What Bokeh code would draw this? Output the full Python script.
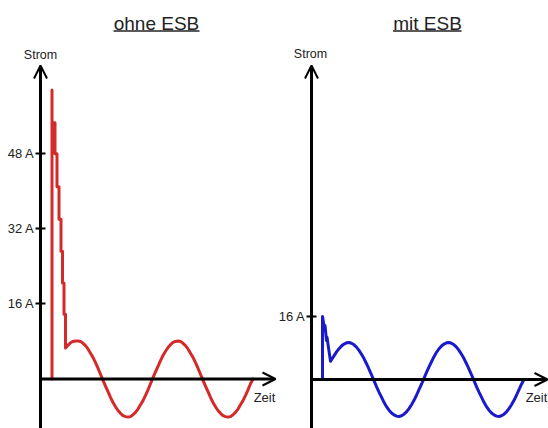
import numpy as np
from bokeh.plotting import figure
from bokeh.models import (LinearAxis, FixedTicker, PrintfTickFormatter, Arrow,
                          OpenHead, Label, BoxAnnotation, Range1d)
from bokeh.layouts import row
from bokeh.embed import file_html
from bokeh.resources import INLINE

# ---------------- data ----------------
panel_titles = ["ohne ESB", "mit ESB"]
y_label = "Strom"
x_label = "Zeit"
left_ticks = [16, 32, 48]
right_ticks = [16]

# ohne ESB : inrush staircase (time in ms, current in A)
red_start_t = 2.3
red_step_t = [2.3, 2.9, 3.3, 3.7, 4.1, 4.4, 4.7, 5.0]
red_step_A = [61.5, 54.5, 47.9, 40.9, 34.0, 27.2, 20.4, 13.8]
red_kink_A = 6.6
red_wave_t0 = 5.5
red_wave_A = [7.2, 7.7, 8.0, 8.1, 8.1, 8.0, 7.6, 7.1, 6.4, 5.5, 4.6, 3.5, 2.3, 1.0, -0.3,
              -1.5, -2.7, -3.9, -5.0, -5.9,
              -6.7, -7.3, -7.8, -8.0, -8.1, -8.0, -7.6, -7.1, -6.4, -5.5, -4.6, -3.5, -2.3, -1.0, 0.3,
              1.5, 2.7, 3.9, 5.0, 5.9,
              6.7, 7.3, 7.8, 8.0, 8.1, 8.0, 7.6, 7.1, 6.4, 5.5, 4.6, 3.5, 2.3, 1.0, -0.3,
              -1.5, -2.7, -3.9, -5.0, -5.9,
              -6.7, -7.3, -7.8, -8.0, -8.1, -8.0, -7.6, -7.1, -6.4, -5.5, -4.6, -3.5, -2.3, -1.0, 0.0]

# mit ESB : small spike
blue_spike_t = [2.2, 2.2, 2.6, 2.7, 3.0, 3.1, 3.8]
blue_spike_A = [0.0, 16.0, 12.9, 13.7, 9.9, 10.7, 4.6]
blue_wave_t0 = 4.0
blue_wave_A = [5.0, 6.0, 7.0,
               7.8, 8.5, 9.0, 9.3, 9.4, 9.2, 8.8, 8.2, 7.4, 6.4, 5.3, 4.0, 2.6, 1.2, -0.3,
               -1.8, -3.2, -4.5, -5.8, -6.9,
               -7.8, -8.5, -9.0, -9.3, -9.4, -9.2, -8.8, -8.2, -7.4, -6.4, -5.3, -4.0, -2.6, -1.2, 0.3,
               1.8, 3.2, 4.5, 5.8, 6.9,
               7.8, 8.5, 9.0, 9.3, 9.4, 9.2, 8.8, 8.2, 7.4, 6.4, 5.3, 4.0, 2.6, 1.2, -0.3,
               -1.8, -3.2, -4.5, -5.8, -6.9,
               -7.8, -8.5, -9.0, -9.3, -9.4, -9.2, -8.8, -8.2, -7.4, -6.4, -5.3, -4.0, -2.6, -1.2, 0.0]
sample_step = 0.5

# ---------------- build series ----------------
red_x = [red_start_t]
red_y = [0.0]
levels = red_step_A + [red_kink_A]
for i, t in enumerate(red_step_t):
    red_x += [t, t]
    red_y += [levels[i], levels[i + 1]]
red_x += list(red_wave_t0 + sample_step * np.arange(len(red_wave_A)))
red_y += red_wave_A

blue_x = list(blue_spike_t) + list(blue_wave_t0 + sample_step * np.arange(len(blue_wave_A)))
blue_y = list(blue_spike_A) + blue_wave_A

FONT = "Liberation Sans"
TXT = "#222222"


def panel(title, xs, ys, color, ticks, width, xr, yr, ytip, xtip, title_pos, ul, strom_pos, zeit_pos):
    p = figure(width=width, height=428, x_range=Range1d(*xr), y_range=Range1d(*yr),
               output_backend="svg", toolbar_location=None, min_border=0,
               x_axis_type=None, y_axis_type=None)
    p.outline_line_color = None
    p.background_fill_color = "white"
    p.border_fill_color = "white"

    yax = LinearAxis(fixed_location=0, ticker=FixedTicker(ticks=ticks),
                     formatter=PrintfTickFormatter(format="%d A"))
    yax.axis_line_color = None
    yax.major_tick_in = 5
    yax.major_tick_out = 5
    yax.major_tick_line_width = 2
    yax.major_tick_line_color = "black"
    yax.minor_tick_line_color = None
    yax.major_label_standoff = 1
    yax.major_label_text_font = FONT
    yax.major_label_text_font_size = "13px"
    yax.major_label_text_color = TXT
    p.add_layout(yax, "left")

    p.add_layout(Arrow(end=OpenHead(size=13, line_width=2, line_color="black"),
                       x_start=0, y_start=yr[0], x_end=0, y_end=ytip,
                       line_width=3, line_color="black"))
    p.add_layout(Arrow(end=OpenHead(size=13, line_width=2, line_color="black"),
                       x_start=0, y_start=0, x_end=xtip, y_end=0,
                       line_width=3, line_color="black"))

    p.line(xs, ys, line_color=color, line_width=3, line_join="round", line_cap="round")

    p.add_layout(Label(x=title_pos[0], y=title_pos[1], text=title, text_align="center",
                       text_baseline="middle", text_font=FONT, text_font_size="19px",
                       text_color=TXT))
    p.add_layout(BoxAnnotation(left=ul[0], right=ul[1], bottom=ul[2], top=ul[3],
                               fill_color=TXT, fill_alpha=1.0, line_color=None))
    p.add_layout(Label(x=strom_pos[0], y=strom_pos[1], text=y_label, text_align="center",
                       text_baseline="middle", text_font=FONT, text_font_size="12.5px",
                       text_color=TXT))
    p.add_layout(Label(x=zeit_pos[0], y=zeit_pos[1], text=x_label, text_align="center",
                       text_baseline="middle", text_font=FONT, text_font_size="13px",
                       text_color=TXT))
    return p


p1 = panel(panel_titles[0], red_x, red_y, "#d42a2a", left_ticks, 278,
           (-8.0, 47.6), (-10.53, 80.53), 66.7, 47.0,
           (23.2, 75.55), (14.6, 31.8, 73.88, 74.20), (0.0, 69.04), (44.8, -3.94))
p2 = panel(panel_titles[1], blue_x, blue_y, "#1a1acc", right_ticks, 270,
           (-6.6, 47.4), (-12.44, 96.19), 79.7, 47.2,
           (23.2, 90.25), (16.3, 30.0, 88.26, 88.64), (-0.2, 82.49), (45.0, -4.57))

layout = row(p1, p2)
open("out.html", "w").write(file_html(layout, INLINE))
